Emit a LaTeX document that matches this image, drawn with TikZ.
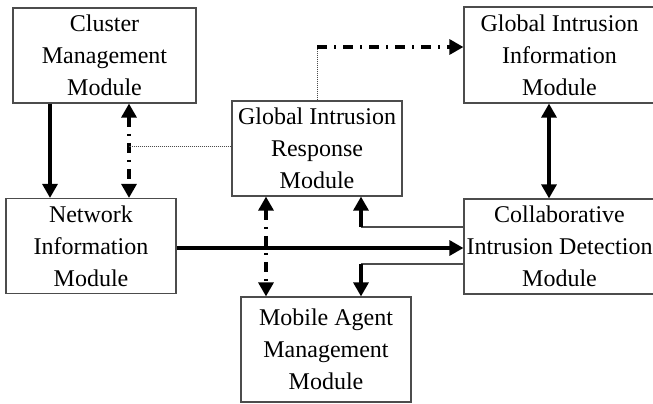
\documentclass[tikz,border=0pt]{standalone}
\usepackage[x11names]{xcolor}
\usepackage{fontspec}
\setmainfont{Liberation Serif}
\usetikzlibrary{arrows.meta}

\begin{document}
\begin{tikzpicture}[x=0.5pt, y=-0.5pt,
        >={Triangle[length=7pt,width=7.5pt]},
        module/.style={draw=black!70, line width=0.6pt, align=center, inner sep=0pt,
            font=\fontsize{12pt}{16pt}\selectfont, minimum width=85pt, minimum height=47.5pt},
        flow/.style={line width=1.6pt},
        dashdot/.style={line width=1.6pt, dash pattern=on 5pt off 3.5pt on 1pt off 3.5pt},
        dotline/.style={black!70, line width=0.5pt, dash pattern=on 0.5pt off 0.5pt},
        thinline/.style={black!70, line width=0.8pt}]
                \useasboundingbox (0,0) rectangle (653,403);
                % Draw the modules
                \node[module, minimum width=91.5pt] (clus) at (104.5,55.5) {Cluster\\Management\\Module};
                \node[module] (gir) at (317,148.5) {Global Intrusion\\Response\\Module};
                \node[module, minimum width=95.5pt, minimum height=48pt] (gii) at (559.5,55) {Global Intrusion\\Information\\Module};
                \node[module] (net) at (91,246) {Network\\Information\\Module};
                \node[module, minimum height=52.5pt] (mob) at (326,349.5) {Mobile Agent\\Management\\Module};
                \node[module, minimum width=95.5pt] (cid) at (559.5,246.5) {Collaborative\\Intrusion Detection\\Module};

                % Name the columns and rows the connectors run along
                \coordinate (xa) at (50,0);
                \coordinate (xb) at (129,0);
                \coordinate (xc) at (266,0);
                \coordinate (xe) at (549,0);
                \coordinate (xf) at (361,0);
                \coordinate (ya) at (0,47);
                \coordinate (yb) at (0,146);
                \coordinate (yc) at (0,227);
                \coordinate (yd) at (0,248);
                \coordinate (ye) at (0,264);

                % Solid arrows
                \draw[flow, ->] (clus.south -| xa) -- (net.north -| xa);
                \draw[flow, <->] (gii.south -| xe) -- (cid.north -| xe);
                \draw[flow, ->] (net.east |- yd) -- (cid.west |- yd);

                % Dash-dotted arrows
                \draw[dashdot, <->] (clus.south -| xb) -- (net.north -| xb);
                \draw[dashdot, <->] (gir.south -| xc) -- (mob.north -| xc);
                \draw[dotline] (gir.north) -- (gir.north |- ya);
                \draw[dashdot, ->] (gir.north |- ya) -- (gii.west |- ya);
                \draw[dotline] (gir.west |- yb) -- (xb |- yb);

                % Feedback from the collaborative module
                \draw[thinline] (cid.west |- yc) -- (xf |- yc);
                \draw[flow, ->] (xf |- yc) -- (gir.south -| xf);
                \draw[thinline] (cid.west |- ye) -- (xf |- ye);
                \draw[flow, ->] (xf |- ye) -- (mob.north -| xf);
            \end{tikzpicture}
\end{document}
